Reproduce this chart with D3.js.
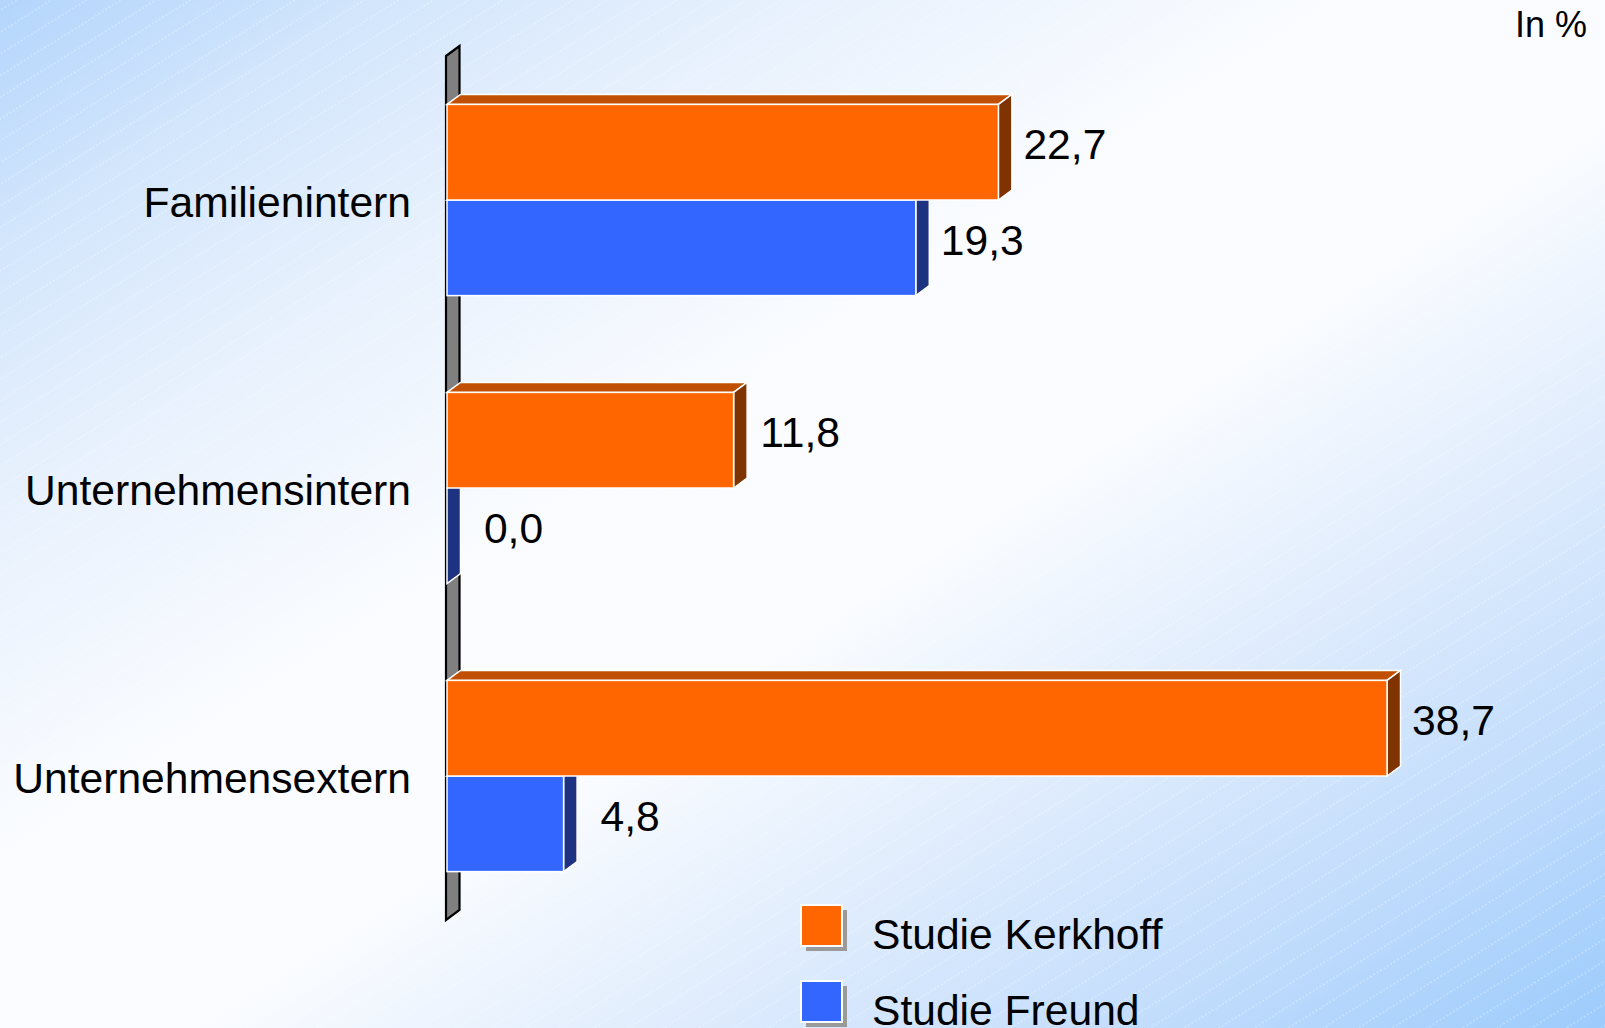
<!DOCTYPE html>
<html>
<head>
<meta charset="utf-8">
<script src="https://cdn.jsdelivr.net/npm/d3@7"></script>
<style>
  html, body { margin: 0; padding: 0; background: #ffffff; }
  svg { display: block; }
  text { font-family: "Liberation Sans", Arial, sans-serif; fill: #000; }
</style>
</head>
<body>
<svg id="chart" width="1605" height="1028"></svg>
<script>
// ---- data ----
const categories = ["Familienintern", "Unternehmensintern", "Unternehmensextern"];
const seriesNames = ["Studie Kerkhoff", "Studie Freund"];
const kerkhoffValues = [22.7, 11.8, 38.7];
const freundValues = [19.3, 0.0, 4.8];
const unitLabel = "In %";

// ---- styles ----
const W = 1605, H = 1028;
const frontColors = ["#FF6600", "#3366FF"];
const topColors = ["#C04F00", "#24399A"];
const sideColors = ["#7F3300", "#1E3282"];
const DX = 13.5, DY = 10;
const FS = 42.6;

const svg = d3.select("#chart");
const defs = svg.append("defs");

// background gradient
const grad = defs.append("linearGradient").attr("id", "bg")
  .attr("x1", 0).attr("y1", 0).attr("x2", 1).attr("y2", 1);
[[0, "#b3d5fc"], [0.12, "#d3e6fc"], [0.25, "#e8f1fd"], [0.42, "#fafcff"],
 [0.56, "#fafcff"], [0.7, "#e1edfd"], [0.85, "#c3ddfc"], [1, "#9ccbfc"]]
  .forEach(([o, c]) => grad.append("stop").attr("offset", o).attr("stop-color", c));

const pat = defs.append("pattern").attr("id", "hatch")
  .attr("patternUnits", "userSpaceOnUse").attr("width", 40).attr("height", 18.4)
  .attr("patternTransform", "rotate(-32)");
pat.append("line").attr("x1", 0).attr("y1", 9).attr("x2", 40).attr("y2", 9)
  .attr("stroke", "#ffffff").attr("stroke-width", 1).attr("stroke-opacity", 0.45)
  .attr("stroke-dasharray", "2,2");

svg.append("rect").attr("width", W).attr("height", H).attr("fill", "url(#bg)");
svg.append("rect").attr("width", W).attr("height", H).attr("fill", "url(#hatch)");

// ---- scales ----
const x = d3.scaleLinear().domain([0, 40]).range([447, 447 + 40 * 24.29]);
const y = d3.scaleBand().domain(categories).range([56, 920])
  .paddingInner(0.336).paddingOuter(0.168);
const ySub = d3.scaleBand().domain(seriesNames).range([0, y.bandwidth()]);

// ---- wall ----
const x0 = x(0);
svg.append("polygon")
  .attr("points", [[x0 - 1, 56], [x0 - 1 + DX, 56 - DY], [x0 - 1 + DX, 920 - DY], [x0 - 1, 920]].join(" "))
  .attr("fill", "#808080").attr("stroke", "#000").attr("stroke-width", 2.2)
  .attr("stroke-linejoin", "miter");

// ---- bars ----
const rows = categories.map((c, i) => ({ cat: c, vals: [kerkhoffValues[i], freundValues[i]] }));

rows.forEach(r => {
  // draw lower series first so upper one overlaps its hidden top
  [1, 0].forEach(si => {
    const v = r.vals[si];
    const yt = y(r.cat) + ySub(seriesNames[si]);
    const h = ySub.bandwidth();
    const xe = x(v);
    const g = svg.append("g");
    g.append("polygon")
      .attr("points", [[x0, yt], [x0 + DX, yt - DY], [xe + DX, yt - DY], [xe, yt]].join(" "))
      .attr("fill", topColors[si]).attr("stroke", "#fff").attr("stroke-width", 1.5);
    g.append("polygon")
      .attr("points", [[xe, yt], [xe + DX, yt - DY], [xe + DX, yt + h - DY], [xe, yt + h]].join(" "))
      .attr("fill", sideColors[si]).attr("stroke", "#fff").attr("stroke-width", 1.5);
    if (xe > x0) {
      g.append("rect").attr("x", x0).attr("y", yt).attr("width", xe - x0).attr("height", h)
        .attr("fill", frontColors[si]).attr("stroke", "#fff").attr("stroke-width", 1.5);
    }
  });
});

// value labels
rows.forEach(r => {
  r.vals.forEach((v, si) => {
    const yc = y(r.cat) + ySub(seriesNames[si]) + ySub.bandwidth() / 2;
    svg.append("text")
      .attr("x", x(v) + DX + 53).attr("y", yc + 7)
      .attr("text-anchor", "middle").attr("font-size", FS)
      .text(d3.format(".1f")(v).replace(".", ","));
  });
});

// category labels
categories.forEach(c => {
  svg.append("text")
    .attr("x", 411).attr("y", y(c) + y.bandwidth() / 2 + 16.5)
    .attr("text-anchor", "end").attr("font-size", FS)
    .text(c);
});

// unit label
svg.append("text").attr("x", 1587).attr("y", 37)
  .attr("text-anchor", "end").attr("font-size", 36).text(unitLabel);

// legend
const lg = svg.append("g");
seriesNames.forEach((s, i) => {
  const ly = 905 + i * 76;
  lg.append("rect").attr("x", 806).attr("y", ly + 5).attr("width", 41).attr("height", 41)
    .attr("fill", "#9a9a9a");
  lg.append("rect").attr("x", 801).attr("y", ly).attr("width", 41).attr("height", 41)
    .attr("fill", frontColors[i]).attr("stroke", "#fff").attr("stroke-width", 2);
  lg.append("text").attr("x", 872).attr("y", ly + 44).attr("font-size", FS).text(s);
});
</script>
</body>
</html>
